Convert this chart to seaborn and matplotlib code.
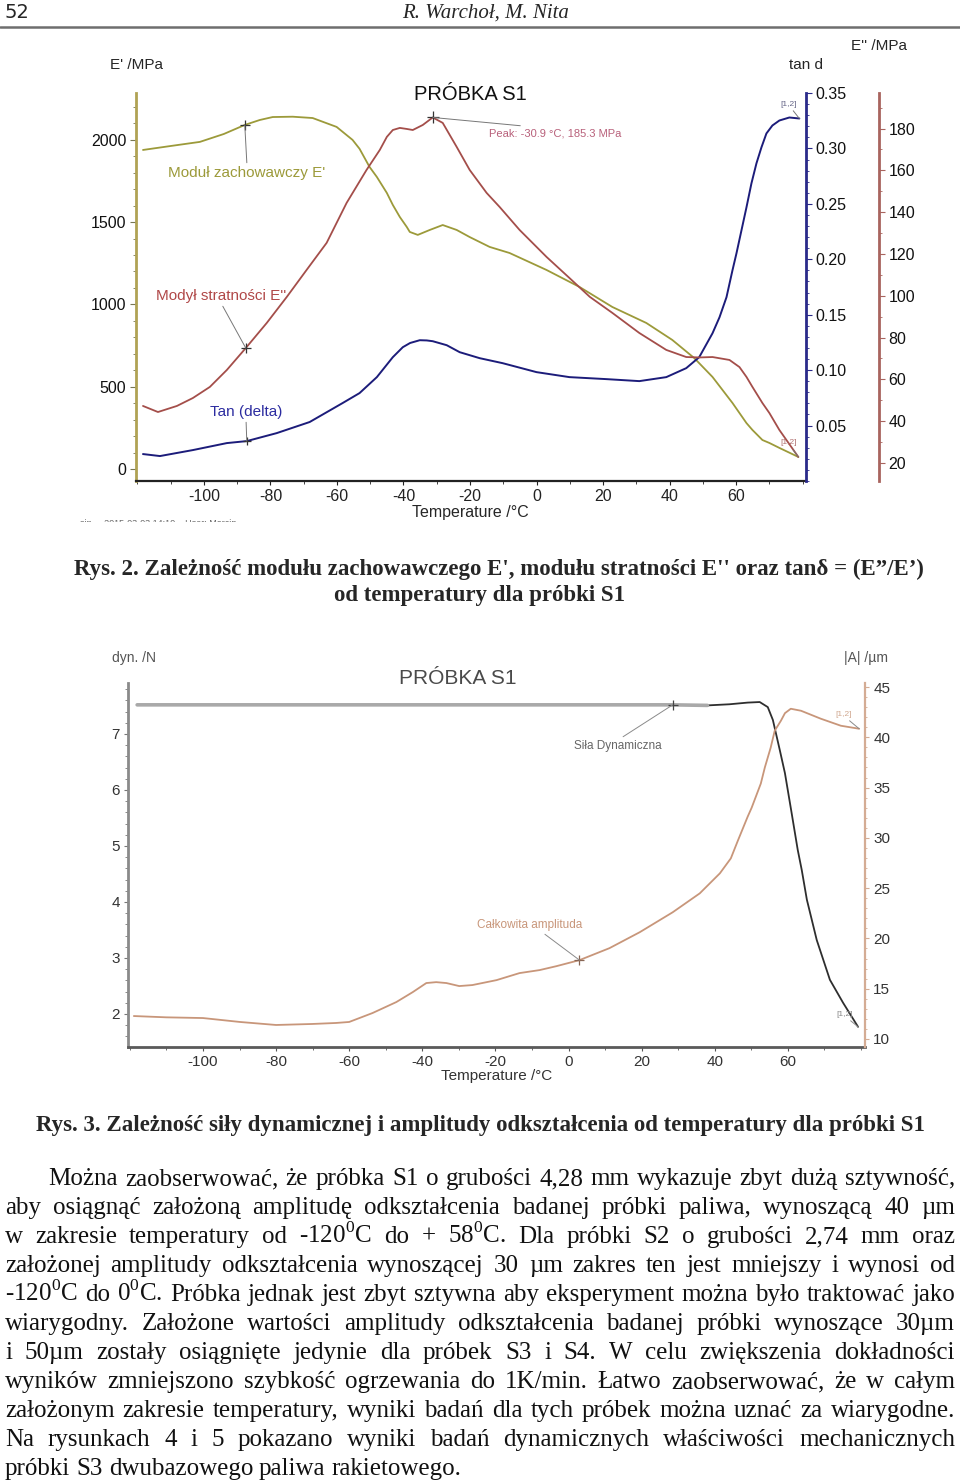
import matplotlib
matplotlib.use("Agg")
import matplotlib.pyplot as plt
import seaborn as sns
from matplotlib.lines import Line2D
from matplotlib.ticker import MultipleLocator, FixedLocator
from matplotlib.transforms import Bbox, TransformedBbox

# --- Rys. 2 data: E', E'', tan d against temperature ---
T_E1 = [-118.3, -110, -101.2, -94, -87.7, -83.2, -79.3, -73.3, -67.3, -60.1, -55.3, -53.2,
        -50.2, -48.0, -45.0, -43.2, -41.1, -39.0, -38.1, -35.7, -32.1, -28.2, -24.0, -20.1,
        -14.1, -8.1, 3.0, 12.9, 22.8, 33.0, 40.8, 47.4, 52.9, 55.9, 58.9, 61.0, 63.1, 64.9,
        67.9, 70.0, 73.0, 78.7]
E1 = [1938, 1962, 1987, 2035, 2090, 2120, 2138, 2140, 2132, 2078, 1999, 1945,
      1835, 1774, 1677, 1604, 1531, 1470, 1440, 1422, 1452, 1482, 1452, 1409,
      1349, 1312, 1209, 1106, 984, 887, 784, 674, 559, 480, 401, 340, 279, 237,
      176, 158, 128, 73]

T_E2 = [-118.3, -113.8, -108.1, -103.3, -98.2, -93.1, -87.4, -81.1, -75.1, -69.1, -63.1,
        -57.1, -51.1, -47.1, -45.0, -43.2, -41.1, -39.0, -37.2, -34.2, -31.2, -28.2, -24.0,
        -20.1, -15.0, -11.1, -5.1, 3.0, 9.9, 16.0, 22.8, 30.9, 39.0, 45.0, 49.0, 52.9, 58.0,
        61.0, 63.1, 64.9, 67.9, 70.0, 73.0, 78.7]
E2 = [47.3, 44.4, 47.3, 51.1, 56.4, 64.5, 75.0, 87.0, 99.4, 112.4, 125.3,
      144.4, 160.2, 169.8, 176.0, 179.3, 180.3, 179.8, 179.3, 181.7, 185.3, 182.7, 171.2,
      160.2, 149.2, 142.5, 131.5, 118.6, 108.5, 99.5, 91.8, 82.2, 74.1, 70.7, 70.5, 70.7, 69.3,
      65.9, 61.2, 56.4, 48.7, 43.9, 35.8, 22.9]

T_TAN = [-118.3, -113.2, -103.3, -93.1, -87.1, -78.1, -68.2, -58.3, -53.2, -48.0, -43.2,
         -40.2, -38.0, -35.1, -33.0, -31.2, -27.0, -23.1, -17.1, -10.2, 0, 9.9, 21.0, 30.9,
         39.0, 45.0, 48.9, 52.9, 55.0, 57.1, 58.9, 60.1, 61.6, 63.1, 64.6, 66.1, 67.6, 69.1,
         70.9, 73.0, 76.0, 79.0]
TAN = [0.0243, 0.0225, 0.0279, 0.0342, 0.0360, 0.0432, 0.0532, 0.0703, 0.0793, 0.0937, 0.1117,
       0.1207, 0.1245, 0.1270, 0.1268, 0.1261, 0.1225, 0.1162, 0.1108, 0.1063, 0.0982, 0.0937,
       0.0919, 0.0901, 0.0937, 0.1018, 0.1117, 0.1333, 0.1477, 0.1658, 0.1901, 0.2054, 0.2261,
       0.2468, 0.2685, 0.2865, 0.3009, 0.3135, 0.3207, 0.3252, 0.3279, 0.3270]

# --- Rys. 3 data: dynamic force and total amplitude ---
T_FORCE = [-118.0, -100, -80, -60, -40, -20, 0, 20, 28.5, 38.0, 44.0, 49.0, 52.3, 54.5,
           55.9, 57.8, 59.2, 61.0, 62.7, 63.8, 65.2, 67.9, 71.5, 75.1, 79.2]
FORCE = [7.52, 7.52, 7.52, 7.52, 7.52, 7.52, 7.52, 7.52, 7.52, 7.51, 7.53, 7.56, 7.57, 7.48,
         7.25, 6.71, 6.30, 5.60, 4.93, 4.57, 4.04, 3.32, 2.61, 2.20, 1.77]

T_AMP = [-118.9, -110, -100, -89.9, -80, -70.1, -63.6, -60, -53.6, -47.1, -42.6, -38.9,
         -36.2, -33.4, -29.9, -26.3, -19.7, -13.4, -7.9, -3.3, 3.0, 11.2, 19.5, 28.5,
         35.9, 41.4, 44.4, 46.3, 49.0, 50.1, 52.6, 53.7, 55.3, 56.4, 58.1, 59.2, 60.8, 63.6,
         69.0, 74.5, 79.5]
AMP = [12.28, 12.15, 12.08, 11.69, 11.39, 11.49, 11.59, 11.69, 12.58, 13.67, 14.66, 15.56,
       15.65, 15.56, 15.26, 15.36, 15.85, 16.55, 16.85, 17.24, 17.84, 19.03, 20.62, 22.60,
       24.48, 26.47, 27.96, 29.70, 32.10, 33.00, 35.40, 37.00, 38.97, 40.65, 41.65, 42.40,
       42.84, 42.64, 41.85, 41.15, 40.85]

X_TICKS = [-100, -80, -60, -40, -20, 0, 20, 40, 60]

BODY = [
    "Można zaobserwować, że próbka S1 o grubości 4,28 mm wykazuje zbyt dużą sztywność,",
    "aby osiągnąć założoną amplitudę odkształcenia badanej próbki paliwa, wynoszącą 40 µm",
    "w zakresie temperatury od -120$^{\\mathrm{0}}$C do + 58$^{\\mathrm{0}}$C. Dla próbki S2 o grubości 2,74 mm oraz",
    "założonej amplitudy odkształcenia wynoszącej 30 µm zakres ten jest mniejszy i wynosi od",
    "-120$^{\\mathrm{0}}$C do 0$^{\\mathrm{0}}$C. Próbka jednak jest zbyt sztywna aby eksperyment można było traktować jako",
    "wiarygodny. Założone wartości amplitudy odkształcenia badanej próbki wynoszące 30µm",
    "i 50µm zostały osiągnięte jedynie dla próbek S3 i S4. W celu zwiększenia dokładności",
    "wyników zmniejszono szybkość ogrzewania do 1K/min. Łatwo zaobserwować, że w całym",
    "założonym zakresie temperatury, wyniki badań dla tych próbek można uznać za wiarygodne.",
    "Na rysunkach 4 i 5 pokazano wyniki badań dynamicznych właściwości mechanicznych",
    "próbki S3 dwubazowego paliwa rakietowego.",
]

sns.set_style("white")
plt.rcParams['font.family'] = ['Liberation Sans', 'DejaVu Sans']
plt.rcParams['mathtext.fontset'] = 'custom'
plt.rcParams['mathtext.rm'] = 'Liberation Serif'
plt.rcParams['axes.unicode_minus'] = False

W, H = 960, 1480
fig = plt.figure(figsize=(9.6, 14.8), dpi=100)


def fx(px):
    return px / W


def fy(py):
    return 1 - py / H


OLIVE = '#9c9a3a'
RED = '#a44e4a'
NAVY = '#1c1c7a'
ORANGE = '#c8967a'

# ---------------- header ----------------
fig.text(fx(5), fy(18), "52", fontsize=14, family='Liberation Sans Narrow', va='baseline')
fig.text(fx(486), fy(18), "R. Warchoł, M. Nita", fontsize=15, family='Liberation Serif',
         style='italic', ha='center', va='baseline')
fig.add_artist(Line2D([0, 1], [fy(27), fy(27)], color='#6e6e6e', lw=1.8))

# ---------------- Rys. 2 ----------------
ax1 = fig.add_axes([fx(136), fy(481), 670 / W, 388 / H])
ax_tan = ax1.twinx()
ax_e2 = ax1.twinx()

sns.lineplot(x=T_E1, y=E1, ax=ax1, color=OLIVE, lw=1.3, estimator=None, sort=False)
sns.lineplot(x=T_TAN, y=TAN, ax=ax_tan, color=NAVY, lw=1.4, estimator=None, sort=False)
sns.lineplot(x=T_E2, y=E2, ax=ax_e2, color=RED, lw=1.3, estimator=None, sort=False)

ax1.set_xlim(-120.4, 81)
ax1.set_ylim(-73, 2284)
ax_tan.set_ylim(0, 0.35)
ax_e2.set_ylim(11.4, 197)

for a in (ax1, ax_tan, ax_e2):
    for s in a.spines.values():
        s.set_visible(False)
    a.set_xlabel('')
    a.set_ylabel('')
    a.patch.set_visible(False)

ax1.spines['left'].set_visible(True)
ax1.spines['left'].set_color('#b0a254')
ax1.spines['left'].set_linewidth(2)
ax1.spines['bottom'].set_visible(True)
ax1.spines['bottom'].set_color('#222222')
ax1.spines['bottom'].set_linewidth(1.6)
ax_tan.spines['right'].set_visible(True)
ax_tan.spines['right'].set_color('#2a2a8a')
ax_tan.spines['right'].set_linewidth(2)
ax_e2.spines['right'].set_visible(True)
ax_e2.spines['right'].set_color('#a8645e')
ax_e2.spines['right'].set_linewidth(2)
ax_e2.spines['right'].set_position(('outward', 73 * 72 / 100))

ax1.xaxis.set_major_locator(FixedLocator(X_TICKS))
ax1.xaxis.set_minor_locator(MultipleLocator(10))
ax1.yaxis.set_major_locator(MultipleLocator(500))
ax1.yaxis.set_minor_locator(MultipleLocator(100))
ax_tan.yaxis.set_major_locator(FixedLocator([0.05, 0.10, 0.15, 0.20, 0.25, 0.30, 0.35]))
ax_tan.yaxis.set_minor_locator(MultipleLocator(0.01))
ax_tan.yaxis.set_major_formatter(plt.FuncFormatter(lambda v, p: f"{v:.2f}"))
ax_e2.yaxis.set_major_locator(FixedLocator(list(range(20, 181, 20))))
ax_e2.yaxis.set_minor_locator(MultipleLocator(10))

ax1.tick_params(axis='x', which='both', direction='out', bottom=True, colors='#222222',
                labelsize=11.5, pad=3)
ax1.tick_params(axis='x', which='major', length=3)
ax1.tick_params(axis='x', which='minor', length=2)
ax1.tick_params(axis='y', which='both', direction='out', left=True, color='#777755',
                labelcolor='#111111', labelsize=11.5, pad=3)
ax1.tick_params(axis='y', which='major', length=4)
ax1.tick_params(axis='y', which='minor', length=2)
for a, col in ((ax_tan, '#2a2a8a'), (ax_e2, '#a8645e')):
    a.tick_params(axis='y', which='both', direction='out', right=True, color=col,
                  labelcolor='#111111', labelsize=11.5, pad=3)
    a.tick_params(axis='y', which='major', length=4)
    a.tick_params(axis='y', which='minor', length=2)

fig.text(fx(136), fy(65), "E' /MPa", fontsize=11, ha='center', va='center')
fig.text(fx(806), fy(65), "tan d", fontsize=11, ha='center', va='center')
fig.text(fx(879), fy(46), "E'' /MPa", fontsize=11, ha='center', va='center')
fig.text(fx(470), fy(512), "Temperature /°C", fontsize=11.5, ha='center', va='center')
fig.text(fx(470), fy(95), "PRÓBKA S1", fontsize=14.5, ha='center', va='center', color='#111111')

# markers and leader lines
ax1.plot(T_E1[4], E1[4], marker='+', color='#333333', ms=7, mew=0.9)
ax_e2.plot(T_E2[6], E2[6], marker='+', color='#333333', ms=7, mew=0.9)
ax_tan.plot(T_TAN[4], TAN[4], marker='+', color='#333333', ms=6, mew=0.9)
ax_e2.plot(T_E2[20], E2[20], marker='+', color='#333333', ms=8, mew=0.9)
lead = dict(arrowstyle='-', color='#777777', lw=0.7, shrinkA=0, shrinkB=0)
ax1.annotate("Moduł zachowawczy E'", xy=(T_E1[4], E1[4]), xytext=(fx(247), fy(173)),
             textcoords='figure fraction', ha='center', va='center', fontsize=11,
             color=OLIVE, arrowprops=dict(lead, relpos=(0.5, 1.0)))
ax_e2.annotate("Modył stratności E''", xy=(T_E2[6], E2[6]), xytext=(fx(221), fy(296)),
               textcoords='figure fraction', ha='center', va='center', fontsize=11,
               color='#b04848', arrowprops=dict(lead, relpos=(0.5, 0.0)))
ax_tan.annotate("Tan (delta)", xy=(T_TAN[4], TAN[4]), xytext=(fx(246), fy(412)),
                textcoords='figure fraction', ha='center', va='center', fontsize=11,
                color='#2c2ca0', arrowprops=dict(lead, relpos=(0.5, 0.0)))
ax_e2.annotate("Peak: -30.9 °C, 185.3 MPa", xy=(T_E2[20], E2[20]), xytext=(fx(555), fy(134)),
               textcoords='figure fraction', ha='center', va='center', fontsize=8,
               color='#b8607a', arrowprops=dict(lead, relpos=(0.5, 1.0)))
ax_tan.annotate("[1,2]", xy=(T_TAN[-1], TAN[-1]), xytext=(fx(789), fy(104)),
                textcoords='figure fraction', ha='center', va='center', fontsize=6,
                color='#666688', arrowprops=dict(lead, relpos=(0.6, 0.0)))
ax_e2.annotate("[1,2]", xy=(T_E2[-1], E2[-1]), xytext=(fx(789), fy(443)),
               textcoords='figure fraction', ha='center', va='center', fontsize=6,
               color='#b07070', arrowprops=dict(lead, relpos=(0.6, 0.0)))

foot = fig.text(fx(80), fy(526), "sin.    2015-03-03 14:10    User: Marcin", fontsize=6.5,
                color='#666666', va='baseline')
foot.set_clip_box(TransformedBbox(Bbox.from_extents(0, fy(522), 1, 1), fig.transFigure))
foot.set_clip_on(True)

# captions
CAP = dict(family='Liberation Serif', fontweight='bold', fontsize=16.5, ha='center',
           va='baseline')
fig.text(fx(499), fy(575), "Rys. 2. Zależność modułu zachowawczego E', modułu stratności E'' "
         "oraz tanδ = (E”/E’)", **CAP)
fig.text(fx(480), fy(601), "od temperatury dla próbki S1", **CAP)

# ---------------- Rys. 3 ----------------
ax2 = fig.add_axes([fx(128), fy(1047), 737 / W, 364 / H])
ax_a = ax2.twinx()

sns.lineplot(x=T_FORCE, y=FORCE, ax=ax2, color='#2e2e2e', lw=1.3, estimator=None, sort=False)
grey_part = [i for i, t in enumerate(T_FORCE) if t <= 38]
sns.lineplot(x=[T_FORCE[i] for i in grey_part], y=[FORCE[i] for i in grey_part], ax=ax2,
             color='#a9a9a9', lw=2.6, estimator=None, sort=False)
sns.lineplot(x=T_AMP, y=AMP, ax=ax_a, color=ORANGE, lw=1.3, estimator=None, sort=False)

ax2.set_xlim(-120.5, 81.1)
ax2.set_ylim(1.41, 7.91)
ax_a.set_ylim(9.2, 45.4)
for a in (ax2, ax_a):
    for s in a.spines.values():
        s.set_visible(False)
    a.set_xlabel('')
    a.set_ylabel('')
    a.patch.set_visible(False)
ax2.spines['left'].set_visible(True)
ax2.spines['left'].set_color('#8a8a8a')
ax2.spines['left'].set_linewidth(2)
ax2.spines['bottom'].set_visible(True)
ax2.spines['bottom'].set_color('#5a5a5a')
ax2.spines['bottom'].set_linewidth(2)
ax_a.spines['right'].set_visible(True)
ax_a.spines['right'].set_color('#d4ac94')
ax_a.spines['right'].set_linewidth(1.6)

ax2.xaxis.set_major_locator(FixedLocator(X_TICKS))
ax2.xaxis.set_minor_locator(MultipleLocator(10))
ax2.yaxis.set_major_locator(MultipleLocator(1))
ax2.yaxis.set_minor_locator(MultipleLocator(0.2))
ax_a.yaxis.set_major_locator(MultipleLocator(5))
ax_a.yaxis.set_minor_locator(MultipleLocator(1))

ax2.tick_params(axis='x', which='both', direction='out', bottom=True, color='#555555',
                labelcolor='#333333', labelsize=11, pad=3)
ax2.tick_params(axis='x', which='major', length=3)
ax2.tick_params(axis='x', which='minor', length=2)
ax2.tick_params(axis='y', which='both', direction='out', left=True, color='#777777',
                labelcolor='#333333', labelsize=11, pad=3)
ax2.tick_params(axis='y', which='major', length=3)
ax2.tick_params(axis='y', which='minor', length=2)
ax_a.tick_params(axis='y', which='both', direction='out', right=True, color='#d4ac94',
                 labelcolor='#333333', labelsize=11, pad=3)
ax_a.tick_params(axis='y', which='major', length=3)
ax_a.tick_params(axis='y', which='minor', length=1.5)

fig.text(fx(134), fy(658), "dyn. /N", fontsize=10, ha='center', va='center', color='#555555')
fig.text(fx(866), fy(658), "|A| /µm", fontsize=10, ha='center', va='center', color='#555555')
fig.text(fx(458), fy(679), "PRÓBKA S1", fontsize=15, ha='center', va='center', color='#4a4a4a')
fig.text(fx(497), fy(1076), "Temperature /°C", fontsize=11, ha='center', va='center',
         color='#333333')

ax2.plot(T_FORCE[8], FORCE[8], marker='+', color='#444444', ms=7, mew=0.9)
ax_a.plot(T_AMP[20], AMP[20], marker='+', color='#886655', ms=7, mew=0.9)
lead2 = dict(arrowstyle='-', color='#8a8a8a', lw=0.7, shrinkA=0, shrinkB=0)
ax2.annotate("Siła Dynamiczna", xy=(T_FORCE[8], FORCE[8]), xytext=(fx(618), fy(746)),
             textcoords='figure fraction', ha='center', va='center', fontsize=8.5,
             color='#666666', arrowprops=dict(lead2, relpos=(0.5, 1.0)))
ax_a.annotate("Całkowita amplituda", xy=(T_AMP[20], AMP[20]), xytext=(fx(530), fy(925)),
              textcoords='figure fraction', ha='center', va='center', fontsize=8.5,
              color=ORANGE, arrowprops=dict(lead2, relpos=(0.6, 0.0)))
ax_a.annotate("[1,2]", xy=(T_AMP[-1], AMP[-1]), xytext=(fx(844), fy(714)),
              textcoords='figure fraction', ha='center', va='center', fontsize=6,
              color='#d0a890', arrowprops=dict(lead2, relpos=(0.6, 0.0)))
ax2.annotate("[1,2]", xy=(T_FORCE[-1], FORCE[-1]), xytext=(fx(845), fy(1014)),
             textcoords='figure fraction', ha='center', va='center', fontsize=6,
             color='#888888', arrowprops=dict(lead2, relpos=(0.6, 0.0)))

fig.text(fx(480), fy(1131), "Rys. 3. Zależność siły dynamicznej i amplitudy odkształcenia od "
         "temperatury dla próbki S1", **CAP)

# ---------------- body text (justified) ----------------
renderer = fig.canvas.get_renderer()
BODY_FONT = dict(family='Liberation Serif', fontsize=18, va='baseline', ha='left',
                 color='#111111')


def put_line(line, y, x0, x1, justify=True):
    words = line.split(' ')
    arts = [fig.text(0, 0, w, **BODY_FONT) for w in words]
    widths = [a.get_window_extent(renderer).width for a in arts]
    if justify and len(words) > 1:
        gap = (x1 - x0 - sum(widths)) / (len(words) - 1)
    else:
        gap = 6
    x = x0
    for a, w in zip(arts, widths):
        a.set_position((fx(x), fy(y)))
        x += w + gap


for i, line in enumerate(BODY):
    x0 = 48 if i == 0 else 5
    put_line(line, 1185 + 29 * i, x0, 955, justify=(i < len(BODY) - 1))

fig.savefig("out.png", dpi=100)
